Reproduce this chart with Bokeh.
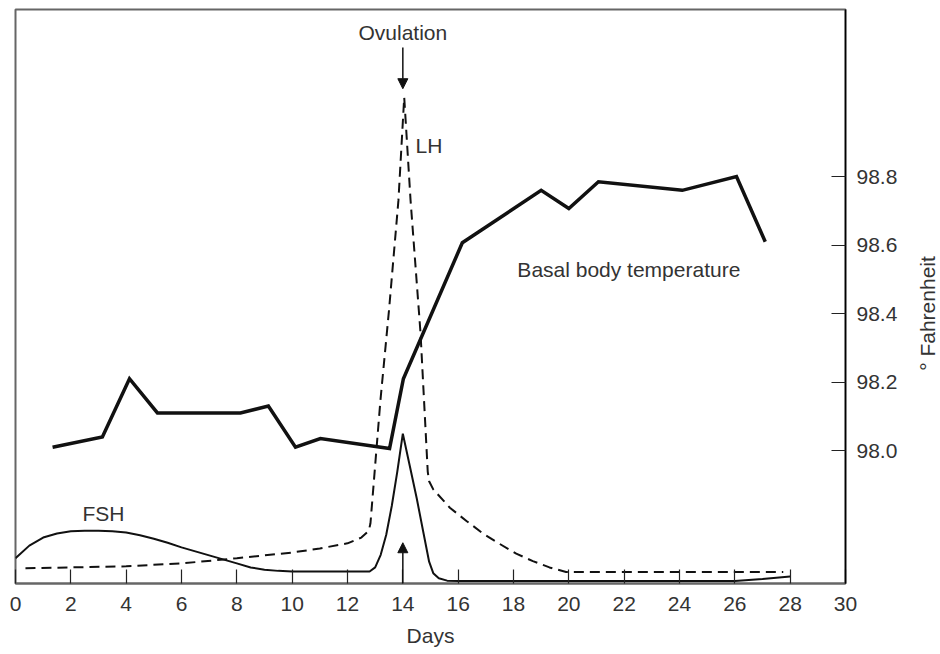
import math
from bokeh.plotting import figure
from bokeh.layouts import row
from bokeh.models import (LinearAxis, Range1d, FixedTicker, PrintfTickFormatter,
                          Label, Arrow, NormalHead)
from bokeh.embed import file_html
from bokeh.resources import INLINE

# ---------------- data ----------------
day_ticks = list(range(0, 31, 2))
temp_ticks = [98.0, 98.2, 98.4, 98.6, 98.8]

# basal body temperature (deg F)
bbt_days = [1.34, 3.14, 4.12, 5.13, 8.13, 9.14, 10.12, 11.02, 13.52, 14.02,
            16.15, 19.0, 20.0, 21.07, 24.1, 26.06, 27.1]
bbt_temp = [98.01, 98.04, 98.21, 98.11, 98.11, 98.13, 98.01, 98.035, 98.006, 98.21,
            98.607, 98.76, 98.707, 98.785, 98.76, 98.80, 98.61]

# FSH (relative level)
fsh_days = [0, 0.5, 1, 1.5, 2, 2.5, 3, 3.5, 4, 4.5, 5, 5.5, 6, 6.5, 7, 7.5, 8, 8.5,
            9, 9.5, 10, 11, 12, 12.8, 13.0, 13.2, 13.4, 13.6, 13.8, 14.0,
            14.25, 14.5, 14.75, 14.95, 15.1, 15.3, 15.6, 16, 20, 24, 26, 27, 28]
fsh_level = [4.4, 6.6, 8.0, 8.7, 9.1, 9.2, 9.2, 9.1, 8.9, 8.4, 7.8, 7.1, 6.3, 5.6,
             4.9, 4.2, 3.5, 2.8, 2.4, 2.2, 2.1, 2.1, 2.1, 2.1, 2.8, 5.0, 8.5, 13.5,
             19.5, 26.1, 20.5, 14.9, 8.7, 3.8, 1.8, 0.9, 0.5, 0.45, 0.45, 0.45, 0.45,
             0.8, 1.2]

# LH (relative level)
lh_days = [0.36, 2, 4, 6, 8, 10, 11, 12, 12.5, 12.77, 12.83, 13.19, 13.5, 13.84, 14.05,
           14.28, 14.64, 14.9, 14.95, 15.1, 15.7, 16.3, 16.9, 17.5, 18.1, 18.7, 19.3,
           19.9, 20.3, 24, 27.75]
lh_level = [2.67, 2.8, 3.0, 3.5, 4.4, 5.4, 6.1, 7.0, 8.0, 9.2, 10.5, 31.9, 47.6, 66.7, 84.7,
            66.7, 43.6, 19.5, 17.8, 16.4, 13.2, 10.9, 8.7, 6.9, 5.2, 3.9, 2.8,
            2.0, 2.0, 2.0, 2.0]

FONT = "Liberation Sans"
FS = "21px"
TEXT = "#333333"
INK = "#111111"

p = figure(frame_width=830, frame_height=574,
           x_range=Range1d(0, 30), y_range=Range1d(0, 100),
           y_axis_location=None, output_backend="svg", toolbar_location=None,
           title=None, min_border_left=15, min_border_top=9,
           min_border_right=65, min_border_bottom=0)

p.grid.visible = False
p.outline_line_color = "#666666"
p.outline_line_width = 2
p.background_fill_color = "white"
p.border_fill_color = "white"

# x axis
xa = p.xaxis[0]
xa.ticker = FixedTicker(ticks=day_ticks)
xa.major_tick_in = 14
xa.major_tick_out = 0
xa.minor_tick_line_color = None
xa.axis_line_color = "#666666"
xa.axis_line_width = 2
xa.major_tick_line_color = "#222222"
xa.major_tick_line_width = 1.2
xa.major_label_standoff = 13
xa.major_label_text_font = FONT
xa.major_label_text_font_size = FS
xa.major_label_text_color = TEXT
xa.axis_label = "Days"
xa.axis_label_standoff = 10
xa.axis_label_text_font = FONT
xa.axis_label_text_font_size = FS
xa.axis_label_text_font_style = "normal"
xa.axis_label_text_color = TEXT

# right temperature axis
p.extra_y_ranges = {"temp": Range1d(97.612, 99.288)}
ya = LinearAxis(y_range_name="temp", ticker=FixedTicker(ticks=temp_ticks),
                formatter=PrintfTickFormatter(format="%.1f"),
                major_tick_in=14, major_tick_out=0, minor_tick_line_color=None,
                axis_line_color="black", axis_line_width=1.5,
                major_tick_line_color="#222222", major_tick_line_width=1.2,
                major_label_standoff=11, major_label_text_font=FONT,
                major_label_text_font_size=FS, major_label_text_color=TEXT)
p.add_layout(ya, "right")

# curves
p.line(lh_days, lh_level, line_width=2, color=INK, line_dash="10 6")
p.line(fsh_days, fsh_level, line_width=2, color=INK)
p.line(bbt_days, bbt_temp, y_range_name="temp", line_width=3.5, color=INK,
       line_join="miter")

# arrows
p.add_layout(Arrow(end=NormalHead(size=10, fill_color=INK, line_color=INK),
                   x_start=14, y_start=93.4, x_end=14, y_end=86.2,
                   line_width=1.5, line_color=INK))
p.add_layout(Arrow(end=NormalHead(size=10, fill_color=INK, line_color=INK),
                   x_start=14, y_start=0, x_end=14, y_end=7.1,
                   line_width=1.5, line_color=INK))

def lab(fig, x, y, t, align="left", angle=0.0):
    fig.add_layout(Label(x=x, y=y, text=t, text_align=align, text_baseline="middle",
                         angle=angle, text_font=FONT, text_font_size=FS,
                         text_color=TEXT))

lab(p, 14.0, 96.0, "Ovulation", "center")
lab(p, 14.46, 76.3, "LH")
lab(p, 18.14, 54.7, "Basal body temperature")
lab(p, 2.42, 12.2, "FSH")

# narrow side strip holding the right-axis title (reads bottom to top)
side = figure(frame_width=28, frame_height=620,
              x_range=Range1d(0, 28), y_range=Range1d(620, 0),
              x_axis_location=None, y_axis_location=None,
              output_backend="svg", toolbar_location=None, title=None,
              min_border_left=0, min_border_right=0, min_border_top=0,
              min_border_bottom=0)
side.grid.visible = False
side.outline_line_color = None
side.background_fill_color = "white"
side.border_fill_color = "white"
lab(side, 16.5, 304, "° Fahrenheit", "center", math.pi / 2)

layout = row(p, side, spacing=0)

open("out.html", "w").write(file_html(layout, INLINE))
